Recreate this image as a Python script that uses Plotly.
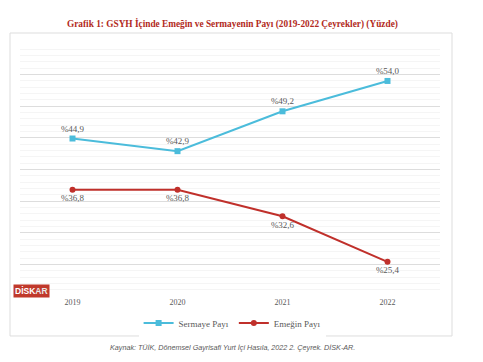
import plotly.graph_objects as go

years = ["2019", "2020", "2021", "2022"]
sermaye = [44.9, 42.9, 49.2, 54.0]
emek = [36.8, 36.8, 32.6, 25.4]
sermaye_labels = ["%44,9", "%42,9", "%49,2", "%54,0"]
emek_labels = ["%36,8", "%36,8", "%32,6", "%25,4"]

blue = "#4BBCDB"
red = "#C0302B"
serif = "Liberation Serif, DejaVu Serif, serif"

fig = go.Figure()
fig.add_trace(go.Scatter(
    x=years, y=sermaye, name="Sermaye Payı", mode="lines+markers+text",
    line=dict(color=blue, width=2), marker=dict(symbol="square", size=6, color=blue),
    text=sermaye_labels, textposition="top center",
    textfont=dict(family=serif, size=9, color="#595959"),
))
fig.add_trace(go.Scatter(
    x=years, y=emek, name="Emeğin Payı", mode="lines+markers+text",
    line=dict(color=red, width=2), marker=dict(symbol="circle", size=6, color=red),
    text=emek_labels, textposition="bottom center",
    textfont=dict(family=serif, size=9, color="#595959"),
))

fig.update_layout(
    width=483, height=362,
    margin=dict(l=20, r=43, t=43, b=66),
    paper_bgcolor="white", plot_bgcolor="white",
    showlegend=True,
    legend=dict(orientation="h", x=0.505, xanchor="center", y=-0.107, yanchor="middle",
                font=dict(family=serif, size=9, color="#595959"),
                itemwidth=30, tracegroupgap=0),
    xaxis=dict(type="category", range=[-0.5, 3.5], showgrid=False, zeroline=False,
               showline=False, ticks="",
               tickfont=dict(family=serif, size=8, color="#595959")),
    yaxis=dict(range=[20, 60], dtick=5, showticklabels=False, showgrid=True,
               gridcolor="#DDDDDD", gridwidth=1, zeroline=False, showline=False,
               minor=dict(dtick=1, showgrid=True, gridcolor="#F5F5F5", gridwidth=1)),
    shapes=[dict(type="rect", xref="paper", yref="paper",
                 x0=-0.0238, x1=1.0286, y0=-0.158, y1=1.0395,
                 line=dict(color="#DDDDDD", width=1), fillcolor="rgba(0,0,0,0)", layer="below")],
    annotations=[
        dict(text="<b>Grafik 1: GSYH İçinde Emeğin ve Sermayenin Payı (2019-2022 Çeyrekler) (Yüzde)</b>",
             xref="paper", yref="paper", x=0.505, y=1.075, showarrow=False,
             xanchor="center", yanchor="middle",
             font=dict(family=serif, size=9.3, color="#B22A22")),
        dict(text="<i>Kaynak: TÜİK, Dönemsel Gayrisafi Yurt İçi Hasıla, 2022 2. Çeyrek. DİSK-AR.</i>",
             xref="paper", yref="paper", x=0.505, y=-0.2055, showarrow=False,
             xanchor="center", yanchor="middle",
             font=dict(family="Liberation Sans, sans-serif", size=7.2, color="#595959")),
        dict(text="<b>DİSK<span style='color:#E8E8E8'>AR</span></b>",
             xref="paper", yref="paper", x=-0.017, y=0.02, showarrow=False,
             xanchor="left", yanchor="middle", bgcolor="#C0392B", borderpad=1,
             font=dict(family="Liberation Sans, sans-serif", size=8.5, color="white")),
    ],
)

fig.write_html("out.html", config={"displayModeBar": False},
               post_script="document.body.style.margin='0';")
